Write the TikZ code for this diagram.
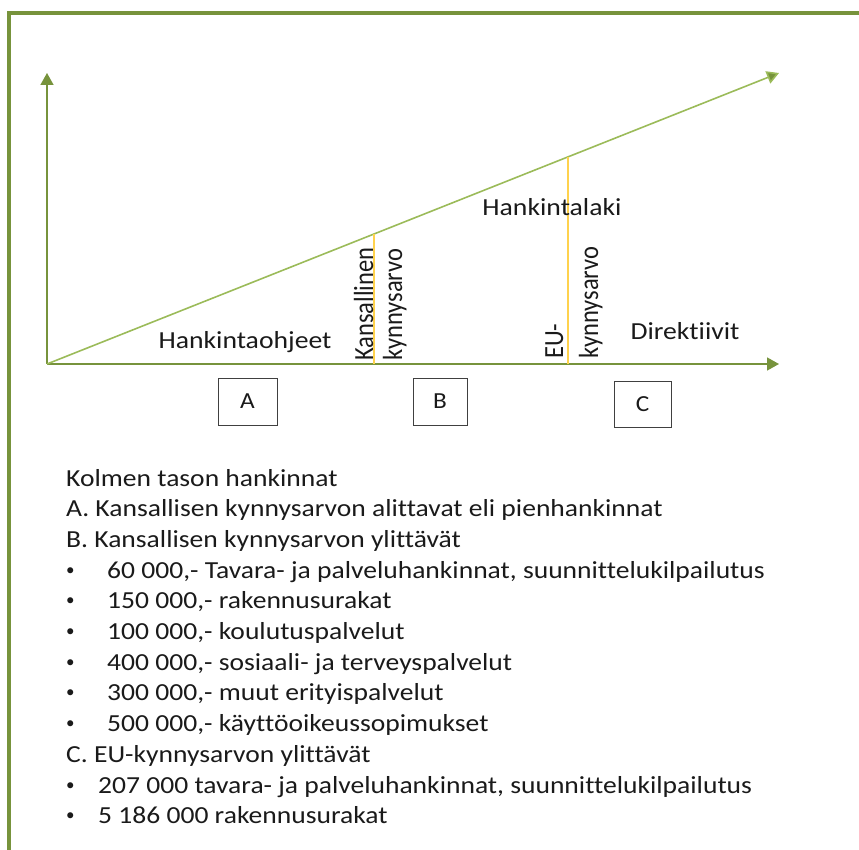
\documentclass[tikz,border=0pt]{standalone}
\usepackage{fontspec}
\setmainfont{Carlito}[Ligatures={NoCommon,NoContextual,NoRequired}]
\usetikzlibrary{arrows.meta}
\definecolor{framegreen}{HTML}{77933C}
\definecolor{linegreen}{HTML}{9BBB59}
\definecolor{limitgold}{HTML}{FFD24D}
\definecolor{txt}{HTML}{1A1A1A}
\tikzset{
  axis/.style={draw=framegreen, line width=1.6pt, -{Triangle[width=13pt,length=12pt]}},
  slope/.style={draw=linegreen, line width=1.6pt, -{Triangle[width=13pt,length=12pt,fill=framegreen]}},
  limit/.style={draw=limitgold, line width=1.4pt},
  lbl/.style={inner sep=0pt, text=txt, font=\fontsize{24.5}{28}\selectfont, xscale=1.13},
  vlbl/.style={inner sep=0pt, text=txt, font=\fontsize{24.5}{28}\selectfont, rotate=90, yscale=1.13, anchor=base west},
  levelbox/.style={draw=black!75, line width=0.8pt, inner sep=0pt},
  boxtext/.style={inner sep=0pt, text=txt, font=\fontsize{23}{26}\selectfont, xscale=1.1},
  item/.style={inner sep=0pt, anchor=base west, text=txt, font=\fontsize{24.5}{28}\selectfont, xscale=1.125},
  dot/.style={inner sep=0pt, anchor=base west, text=txt, font=\fontsize{17}{20}\selectfont},
}
\begin{document}
\begin{tikzpicture}[x=1pt, y=-1pt]
\useasboundingbox (0,0) rectangle (859,850);
% slide frame (top and left edges)
\draw[framegreen, line width=4pt] (9,850) -- (9,13) -- (859,13);

% axes and rising line
\coordinate (O) at (47,364);
\coordinate (Ytop) at (47,73);
\coordinate (Xend) at (779,364);
\coordinate (Dend) at (779,73);
\draw[axis] (O) -- (Ytop);
\draw[axis] (O) -- (Xend);
\draw[slope] (O) -- (Dend);

% threshold markers
\coordinate (K1top) at (374,234);
\coordinate (K1bot) at (374,364);
\coordinate (K2top) at (568,157);
\coordinate (K2bot) at (568,364);
\draw[limit] (K1bot) -- (K1top);
\draw[limit] (K2bot) -- (K2top);

% area labels
\node[lbl] (ohjeet) at (245,342) {Hankintaohjeet};
\node[lbl] (laki) at (552,207) {Hankintalaki};
\node[lbl] (dir) at (685,331) {Direktiivit};

% rotated threshold labels
\node[vlbl] (kans1) at (373,361) {Kansallinen};
\node[vlbl] (kyn1) at (402,361) {kynnysarvo};
\node[vlbl] (eu) at (563,359) {EU-};
\node[vlbl] (kyn2) at (598,359) {kynnysarvo};

% level boxes
\node[levelbox, minimum width=59pt, minimum height=47pt] (A) at (247.5,401.5) {};
\node[levelbox, minimum width=54pt, minimum height=47pt] (B) at (440,401.5) {};
\node[levelbox, minimum width=57pt, minimum height=46pt] (C) at (642.5,404) {};
\node[boxtext] (Atext) at (A.center) {A};
\node[boxtext] (Btext) at (B.center) {B};
\node[boxtext] (Ctext) at (C.center) {C};

% explanatory list
\node[item] (l1) at (66,486) {Kolmen tason hankinnat};
\node[item] (l2) at (66,516.7) {A. Kansallisen kynnysarvon alittavat eli pienhankinnat};
\node[item] (l3) at (66,547.4) {B. Kansallisen kynnysarvon ylittävät};
\node[dot] (b1) at (66,575.1) {•};
\node[item] (t1) at (107,578.1) {60 000,- Tavara- ja palveluhankinnat, suunnittelukilpailutus};
\node[dot] (b2) at (66,605.8) {•};
\node[item] (t2) at (107,608.8) {150 000,- rakennusurakat};
\node[dot] (b3) at (66,636.5) {•};
\node[item] (t3) at (107,639.5) {100 000,- koulutuspalvelut};
\node[dot] (b4) at (66,667.2) {•};
\node[item] (t4) at (107,670.2) {400 000,- sosiaali- ja terveyspalvelut};
\node[dot] (b5) at (66,697.9) {•};
\node[item] (t5) at (107,700.9) {300 000,- muut erityispalvelut};
\node[dot] (b6) at (66,728.6) {•};
\node[item] (t6) at (107,731.6) {500 000,- käyttöoikeussopimukset};
\node[item] (l4) at (66,762.3) {C. EU-kynnysarvon ylittävät};
\node[dot] (b7) at (66,790) {•};
\node[item] (t7) at (98,793) {207 000 tavara- ja palveluhankinnat, suunnittelukilpailutus};
\node[dot] (b8) at (66,820.7) {•};
\node[item] (t8) at (98,823.7) {5 186 000 rakennusurakat};
\end{tikzpicture}
\end{document}
